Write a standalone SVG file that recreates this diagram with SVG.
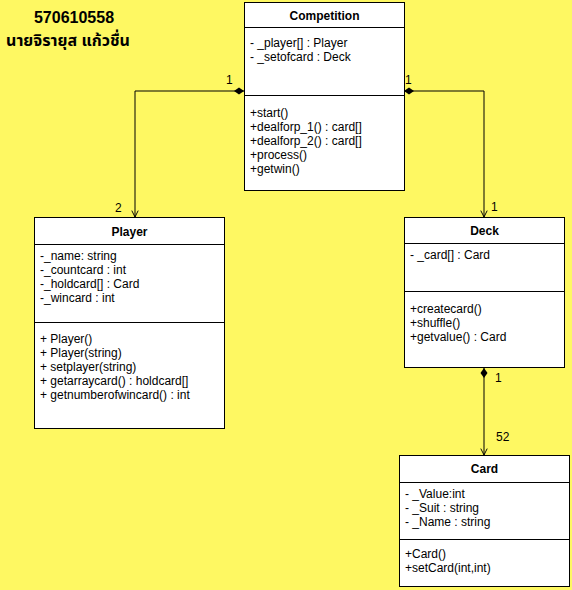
<svg xmlns="http://www.w3.org/2000/svg" width="572" height="590" viewBox="0 0 572 590">
<defs>
<style>
.bg{fill:#FEF862}
.box{fill:#fff;stroke:#000;stroke-width:1}
.ln{stroke:#000;stroke-width:1;fill:none}
.t{font-family:"Liberation Sans",Arial,sans-serif;font-size:12px;fill:#000}
.h{font-family:"Liberation Sans",Arial,sans-serif;font-size:12px;font-weight:bold;fill:#000;text-anchor:middle}
.hd{font-family:"Liberation Sans","Noto Sans Thai","Noto Sans","DejaVu Sans",sans-serif;font-size:16px;font-weight:bold;fill:#000;text-anchor:middle}
</style>
<marker id="dia" viewBox="0 0 10 8" refX="0" refY="4" markerWidth="10" markerHeight="8" markerUnits="userSpaceOnUse" orient="auto">
<path d="M0,4 L5,0.5 L10,4 L5,7.5 Z" fill="#000"/>
</marker>
<marker id="arr" viewBox="0 0 10 10" refX="9" refY="5" markerWidth="8" markerHeight="8" markerUnits="userSpaceOnUse" orient="auto">
<path d="M1,1 L9,5 L1,9" fill="none" stroke="#000" stroke-width="1.2"/>
</marker>
</defs>
<rect class="bg" x="0" y="0" width="572" height="590"/>
<g id="header">
<text class="hd" x="74" y="23">570610558</text>
<text class="hd" x="68" y="46">นายจิรายุส แก้วชื่น</text>
</g>
<g id="connectors">
<path class="ln" d="M244,91 H135 V217" marker-start="url(#dia)" marker-end="url(#arr)"/>
<path class="ln" d="M404,91 H484 V217" marker-start="url(#dia)" marker-end="url(#arr)"/>
<path class="ln" d="M484,368 V455" marker-start="url(#dia)" marker-end="url(#arr)"/>
<text class="t" x="226" y="84">1</text>
<text class="t" x="115" y="212">2</text>
<text class="t" x="405" y="84">1</text>
<text class="t" x="491" y="211">1</text>
<text class="t" x="495" y="382">1</text>
<text class="t" x="496" y="441">52</text>
</g>
<g id="competition">
<rect class="box" x="244.5" y="2.5" width="160" height="188"/>
<line class="ln" x1="244.5" y1="27.5" x2="404.5" y2="27.5"/>
<line class="ln" x1="244.5" y1="95.5" x2="404.5" y2="95.5"/>
<text class="h" x="324.5" y="20">Competition</text>
<text class="t" x="250" y="47">- _player[] : Player</text>
<text class="t" x="250" y="61">- _setofcard : Deck</text>
<text class="t" x="250" y="117">+start()</text>
<text class="t" x="250" y="131">+dealforp_1() : card[]</text>
<text class="t" x="250" y="145">+dealforp_2() : card[]</text>
<text class="t" x="250" y="159">+process()</text>
<text class="t" x="250" y="173">+getwin()</text>
</g>
<g id="player">
<rect class="box" x="34.5" y="217.5" width="190" height="211"/>
<line class="ln" x1="34.5" y1="244.5" x2="224.5" y2="244.5"/>
<line class="ln" x1="34.5" y1="322.5" x2="224.5" y2="322.5"/>
<text class="h" x="129.5" y="236">Player</text>
<text class="t" x="40" y="260">-_name: string</text>
<text class="t" x="40" y="274">-_countcard : int</text>
<text class="t" x="40" y="288">-_holdcard[] : Card</text>
<text class="t" x="40" y="302">-_wincard : int</text>
<text class="t" x="40" y="343">+ Player()</text>
<text class="t" x="40" y="357">+ Player(string)</text>
<text class="t" x="40" y="371">+ setplayer(string)</text>
<text class="t" x="40" y="385">+ getarraycard() : holdcard[]</text>
<text class="t" x="40" y="399">+ getnumberofwincard() : int</text>
</g>
<g id="deck">
<rect class="box" x="404.5" y="217.5" width="160" height="150"/>
<line class="ln" x1="404.5" y1="243.5" x2="564.5" y2="243.5"/>
<line class="ln" x1="404.5" y1="291.5" x2="564.5" y2="291.5"/>
<text class="h" x="484.5" y="235">Deck</text>
<text class="t" x="410" y="259">- _card[] : Card</text>
<text class="t" x="410" y="313">+createcard()</text>
<text class="t" x="410" y="327">+shuffle()</text>
<text class="t" x="410" y="341">+getvalue() : Card</text>
</g>
<g id="card">
<rect class="box" x="399.5" y="455.5" width="170" height="131"/>
<line class="ln" x1="399.5" y1="482.5" x2="569.5" y2="482.5"/>
<line class="ln" x1="399.5" y1="539.5" x2="569.5" y2="539.5"/>
<text class="h" x="484.5" y="473">Card</text>
<text class="t" x="405" y="498">- _Value:int</text>
<text class="t" x="405" y="512">- _Suit : string</text>
<text class="t" x="405" y="526">- _Name : string</text>
<text class="t" x="405" y="558">+Card()</text>
<text class="t" x="405" y="572">+setCard(int,int)</text>
</g>
</svg>
